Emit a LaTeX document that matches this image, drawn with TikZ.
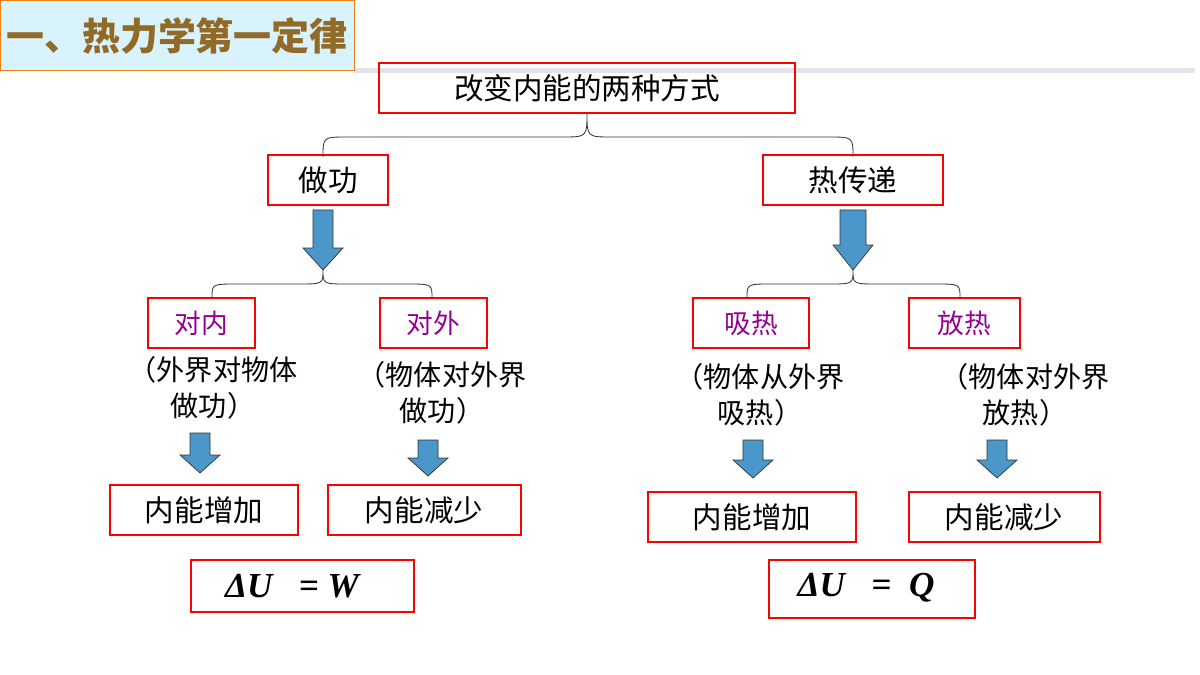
\documentclass[tikz,border=0pt]{standalone}
\usepackage{fontspec}
\newfontfamily\cjk{Noto Sans CJK SC}
\newfontfamily\eqf{Liberation Serif}
\begin{document}
\begin{tikzpicture}[x=0.025cm,y=-0.025cm,
  rbox/.style={draw=red,line width=1.6pt,inner sep=0pt},
  txt/.style={font=\cjk\fontsize{21}{25}\selectfont},
  ptxt/.style={font=\cjk\fontsize{19}{26}\selectfont,text=violet!85!magenta},
  brace/.style={draw=black!80,line width=0.6pt},
  barrow/.style={draw=black!80,fill=blue!40!cyan!70!black!70,line width=0.5pt}]
\useasboundingbox (0,0) rectangle (1200,675);
\fill[white] (0,0) rectangle (1200,675);
% title
\fill[blue!10!gray!20] (354,68) rectangle (1195,73);
\node[draw=orange!70!brown,fill=cyan!15!white,line width=1pt,minimum width=354*0.025cm,minimum height=70*0.025cm,anchor=north west] (title) at (0,0) {};
\node[font=\cjk\bfseries\fontsize{27}{30}\selectfont,text=brown!70!black!90!yellow] (tt) at (177,36) {一、热力学第一定律};
% boxes
\draw[rbox] (379,63) rectangle (795,113); \node[txt] (top) at (587,88) {改变内能的两种方式};
\draw[rbox] (268,155) rectangle (388,205); \node[txt] (zg) at (328,180) {做功};
\draw[rbox] (763,155) rectangle (943,205); \node[txt] (rcd) at (853,180) {热传递};
\draw[rbox] (148,298) rectangle (255,348); \node[ptxt] (dn) at (201,323) {对内};
\draw[rbox] (380,298) rectangle (487,348); \node[ptxt] (dw) at (433,323) {对外};
\draw[rbox] (693,298) rectangle (809,348); \node[ptxt] (xr) at (751,323) {吸热};
\draw[rbox] (909,298) rectangle (1020,348); \node[ptxt] (fr) at (964,323) {放热};
\draw[rbox] (110,485) rectangle (298,535); \node[txt] (z1) at (204,510) {内能增加};
\draw[rbox] (328,485) rectangle (521,535); \node[txt] (j1) at (424,510) {内能减少};
\draw[rbox] (648,492) rectangle (856,542); \node[txt] (z2) at (752,517) {内能增加};
\draw[rbox] (909,492) rectangle (1100,542); \node[txt] (j2) at (1004,517) {内能减少};
\draw[rbox] (191,560) rectangle (414,612);
\node[font=\eqf\bfseries\itshape\fontsize{25}{30}\selectfont] (e1) at (292,586) {ΔU\enspace\ =\ W};
\draw[rbox] (769,560) rectangle (975,618);
\node[font=\eqf\bfseries\itshape\fontsize{25}{30}\selectfont] (e2) at (866,588) {ΔU\enspace\ =\ \ Q};
% paren texts
\node[align=center,font=\cjk\fontsize{20}{26}\selectfont] (p1) at (213,388) {（外界对物体\\做功）};
\node[align=center,font=\cjk\fontsize{20}{26}\selectfont] (p2) at (442,393) {（物体对外界\\做功）};
\node[align=center,font=\cjk\fontsize{20}{26}\selectfont] (p3) at (760,395) {（物体从外界\\吸热）};
\node[align=center,font=\cjk\fontsize{20}{26}\selectfont] (p4) at (1025,395) {（物体对外界\\放热）};
% braces
\def\bracex#1#2#3#4#5#6{\draw[brace] (#1,#5) .. controls (#1,#4) .. ({#1+25},#4) -- ({#2-25},#4) .. controls (#2,#4) .. (#2,#3) .. controls (#2,#4) .. ({#2+25},#4) -- ({#6-25},#4) .. controls (#6,#4) .. (#6,#5);}
\bracex{323}{587}{113}{137}{157}{853}
\bracex{212}{323}{270}{284}{298}{432}
\bracex{747}{853}{270}{284}{298}{960}
% arrows
\def\darr#1#2#3#4#5#6{\draw[barrow] ({#1-#4},#2) -- ({#1+#4},#2) -- ({#1+#4},{#3-#6}) -- ({#1+#5},{#3-#6}) -- (#1,#3) -- ({#1-#5},{#3-#6}) -- ({#1-#4},{#3-#6}) -- cycle;}
\darr{323}{210}{270}{10}{20}{22}
\darr{853}{210}{270}{13}{20}{25}
\darr{200}{433}{473}{10}{20}{18}
\darr{428}{440}{476}{10}{20}{18}
\darr{753}{440}{478}{10}{20}{18}
\darr{997}{440}{478}{10}{20}{18}
\end{tikzpicture}
\end{document}
